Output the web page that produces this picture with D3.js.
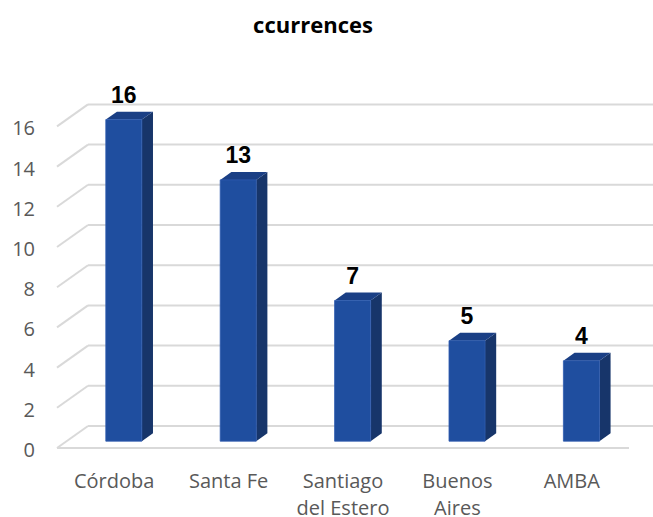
<!DOCTYPE html>
<html lang="en">
<head>
  <meta charset="UTF-8">
  <title>Occurrences</title>
  <style>
    * { margin: 0; box-sizing: border-box; }
    body { background: #fff; }
    svg { display: block; }
    .grid { stroke: #d9d9d9; stroke-width: 2; fill: none; }
    .tick-label { font: 20px 'Open Sans', sans-serif; fill: #595959; }
    .cat-label { font: 20px 'Open Sans', sans-serif; fill: #595959; text-anchor: middle; }
    .value-label { font: bold 23px 'Liberation Sans', Arial, sans-serif; fill: #000; text-anchor: middle; }
    .title { font: bold 22px 'Open Sans', sans-serif; fill: #000; text-anchor: middle; }
  </style>
</head>
<body>
  <svg></svg>
  <script src="https://d3js.org/d3.v7.min.js"></script>
  <script>
    const categories = ['Córdoba', 'Santa Fe', 'Santiago del Estero', 'Buenos Aires', 'AMBA'];
    const catLines = [['Córdoba'], ['Santa Fe'], ['Santiago', 'del Estero'], ['Buenos', 'Aires'], ['AMBA']];
    const values = [16, 13, 7, 5, 4];
    const yTicks = [0, 2, 4, 6, 8, 10, 12, 14, 16];

    const width = 653;
    const height = 517;
    const svg = d3.select('svg')
      .attr('width', width)
      .attr('height', height);

    // depth of the 3d box (front -> back wall)
    const depthX = 31;
    const depthY = -22;

    const x = d3.scaleBand()
      .domain(categories)
      .range([57, 629]);

    const y = d3.scaleLinear()
      .domain([0, 16])
      .range([448, 126.4]);

    // point on the front plane, pushed back by z (0 = front, 1 = back wall)
    function project(px, v, z) {
      return [px + depthX * z, y(v) + depthY * z];
    }

    const x0 = x.range()[0];
    const x1 = x.range()[1];

    // back wall gridlines + left side diagonals
    const grid = svg.append('g');
    yTicks.forEach(t => {
      grid.append('line').attr('class', 'grid')
        .attr('x1', x0 + depthX).attr('y1', y(t) + depthY)
        .attr('x2', width + 10).attr('y2', y(t) + depthY);
      grid.append('line').attr('class', 'grid')
        .attr('x1', x0).attr('y1', y(t))
        .attr('x2', x0 + depthX).attr('y2', y(t) + depthY);
    });
    // floor front edge
    grid.append('line').attr('class', 'grid')
      .attr('x1', x0).attr('y1', y(0))
      .attr('x2', x1).attr('y2', y(0));

    // y tick labels
    svg.append('g').selectAll('text')
      .data(yTicks)
      .join('text')
      .attr('class', 'tick-label')
      .attr('x', 35)
      .attr('y', d => y(d) + 2)
      .attr('dy', '0.35em')
      .attr('text-anchor', 'end')
      .text(d => d);

    // bars
    const barFrac = 0.315;
    const z0 = 0.31, z1 = 0.67;
    const pts = a => a.map(p => p.join(',')).join(' ');

    const bars = svg.append('g').selectAll('g')
      .data(categories.map((c, i) => ({cat: c, value: values[i]})))
      .join('g');

    bars.each(function(d) {
      const g = d3.select(this);
      const cx = x(d.cat) + x.bandwidth() / 2;
      const bw = x.bandwidth() * barFrac;
      const l = cx - bw / 2, r = cx + bw / 2;

      g.append('polygon')
        .attr('points', pts([project(r, 0, z0), project(r, d.value, z0), project(r, d.value, z1), project(r, 0, z1)]))
        .attr('fill', '#17356a');
      g.append('polygon')
        .attr('points', pts([project(l, d.value, z0), project(r, d.value, z0), project(r, d.value, z1), project(l, d.value, z1)]))
        .attr('fill', '#1a3f85');
      g.append('polygon')
        .attr('points', pts([project(l, 0, z0), project(l, d.value, z0), project(r, d.value, z0), project(r, 0, z0)]))
        .attr('fill', '#1f4e9f')
        .attr('stroke', '#2f5cb0')
        .attr('stroke-width', 0.8);

      const top = project(cx, d.value, z1);
      g.append('text')
        .attr('class', 'value-label')
        .attr('x', cx + depthX * z0)
        .attr('y', top[1] - 9)
        .text(d.value);
    });

    // category labels
    const cat = svg.append('g').selectAll('text')
      .data(categories.map((c, i) => ({cat: c, lines: catLines[i]})))
      .join('text')
      .attr('class', 'cat-label')
      .attr('x', d => x(d.cat) + x.bandwidth() / 2)
      .attr('y', 488);
    cat.selectAll('tspan')
      .data(d => d.lines.map(l => ({line: l, x: x(d.cat) + x.bandwidth() / 2})))
      .join('tspan')
      .attr('x', d => d.x)
      .attr('dy', (d, i) => i ? 27 : 0)
      .text(d => d.line);

    svg.append('text')
      .attr('class', 'title')
      .attr('x', 313)
      .attr('y', 33)
      .text('ccurrences');
  </script>
</body>
</html>
